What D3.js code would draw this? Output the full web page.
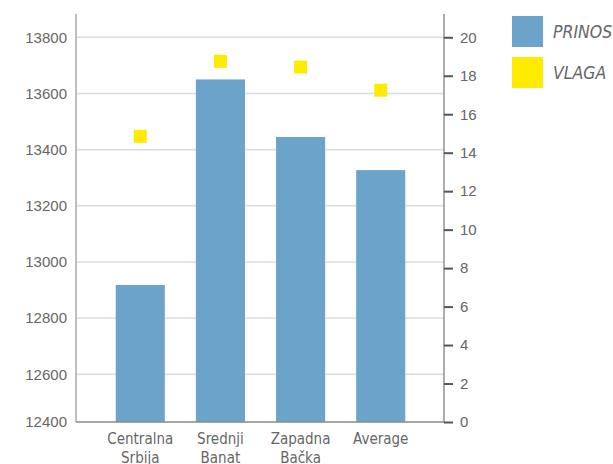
<!DOCTYPE html>
<html>
<head>
<meta charset="utf-8">
<script src="https://cdn.jsdelivr.net/npm/d3@7"></script>
<style>
  html, body { margin: 0; padding: 0; background: #fff; }
  svg { display: block; font-family: "DejaVu Sans Condensed", "DejaVu Sans", sans-serif; }
</style>
</head>
<body>
<svg id="chart" width="613" height="464"></svg>
<script>
const categories = [["Centralna", "Srbija"], ["Srednji", "Banat"], ["Zapadna", "Bačka"], ["Average"]];
const prinos = [12918, 13650, 13445, 13327];
const vlaga = [14.85, 18.75, 18.45, 17.25];
const leftTicks = [12400, 12600, 12800, 13000, 13200, 13400, 13600, 13800];
const rightTicks = [0, 2, 4, 6, 8, 10, 12, 14, 16, 18, 20];
const seriesNames = ["PRINOS", "VLAGA"];
const colors = ["#6ba3ca", "#ffeb00"];

const svg = d3.select("#chart");
const L = 76, R = 444, T = 14, B = 422;
const textColor = "#666";

const x = d3.scaleBand().domain(d3.range(categories.length)).range([100.5, 420.5]).paddingInner(0.3875).paddingOuter(0.19);
const yL = d3.scaleLinear().domain([12430, 13883]).range([B, T]).clamp(true);
const yR = d3.scaleLinear().domain([0, 21.21]).range([B, T]);

// gridlines
svg.append("g").selectAll("line").data(leftTicks.filter(v => yL(v) < B - 1)).join("line")
  .attr("x1", L).attr("x2", R).attr("y1", d => yL(d)).attr("y2", d => yL(d))
  .attr("stroke", "#dcdcdc").attr("stroke-width", 1.5);

// bars
svg.append("g").selectAll("rect").data(prinos).join("rect")
  .attr("x", (d, i) => x(i)).attr("width", x.bandwidth())
  .attr("y", d => yL(d)).attr("height", d => B - yL(d))
  .attr("fill", colors[0]);

// vlaga markers
const ms = 13;
svg.append("g").selectAll("rect").data(vlaga).join("rect")
  .attr("x", (d, i) => x(i) + x.bandwidth() / 2 - ms / 2).attr("y", d => yR(d) - ms / 2)
  .attr("width", ms).attr("height", ms).attr("fill", colors[1]);

// left axis
const gL = svg.append("g").attr("transform", `translate(${L},0)`)
  .call(d3.axisLeft(yL).tickValues(leftTicks).tickSize(0).tickPadding(9).tickFormat(d3.format("d")));
gL.select(".domain").attr("stroke", "#aaa").attr("stroke-width", 1.5).attr("d", `M0,${T}V${B}`);
gL.selectAll("text").attr("fill", textColor).attr("font-size", 15).attr("font-family", null);

// right axis
const gR = svg.append("g").attr("transform", `translate(${R},0)`)
  .call(d3.axisRight(yR).tickValues(rightTicks).tickSize(9).tickPadding(7));
gR.select(".domain").attr("stroke", "#777").attr("stroke-width", 1.2).attr("d", `M0,${T}V${B}`);
gR.selectAll(".tick line").attr("stroke", "#555").attr("stroke-width", 2);
gR.selectAll("text").attr("fill", textColor).attr("font-size", 15).attr("font-family", null);

// baseline
svg.append("line").attr("x1", L).attr("x2", R).attr("y1", B).attr("y2", B)
  .attr("stroke", "#888").attr("stroke-width", 1.5);

// category labels
const cl = svg.append("g").selectAll("text").data(categories).join("text")
  .attr("text-anchor", "middle").attr("fill", textColor).attr("font-size", 15)
  .attr("x", (d, i) => x(i) + x.bandwidth() / 2).attr("y", 444);
cl.selectAll("tspan").data(d => d).join("tspan")
  .attr("x", function() { return d3.select(this.parentNode).attr("x"); })
  .attr("dy", (d, i) => i === 0 ? 0 : 19).text(d => d);

// legend
const lg = svg.append("g").selectAll("g").data(seriesNames).join("g")
  .attr("transform", (d, i) => `translate(512,${16 + i * 41})`);
lg.append("rect").attr("width", 31).attr("height", 31).attr("fill", (d, i) => colors[i]);
lg.append("text").attr("x", 41).attr("y", 22).attr("font-size", 17.5).attr("font-style", "italic")
  .attr("fill", textColor).text(d => d);
</script>
</body>
</html>
